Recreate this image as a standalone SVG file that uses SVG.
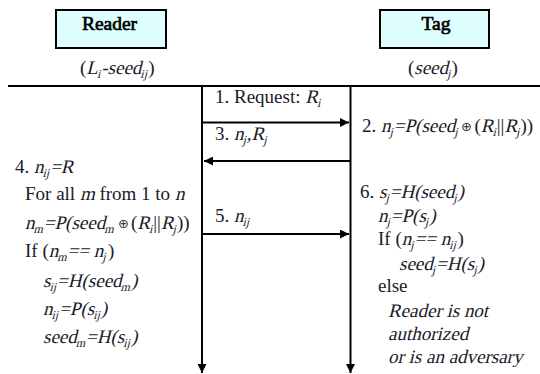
<svg xmlns="http://www.w3.org/2000/svg" width="540" height="374" viewBox="0 0 540 374">
<style>
  .box { fill: #dfffff; stroke: #000; stroke-width: 2; }
  .ln { stroke: #000; stroke-width: 2; fill: none; }
</style>
<defs>
  <marker id="ah" viewBox="0 0 10 10" refX="10" refY="5" markerWidth="12" markerHeight="9" markerUnits="userSpaceOnUse" orient="auto">
    <path d="M0,0 L10,5 L0,10 z" fill="#000"/>
  </marker>
</defs>
<rect width="540" height="374" fill="#fff"/>

<g font-family="Liberation Serif" font-size="19" fill="#1a1a2a">
<!-- slanted runs use skewX so the upright face can stand in for italics -->
<g id="reader">
  <rect class="box" x="56" y="10" width="110" height="38"/>
  <text x="109.5" y="30" text-anchor="middle" font-size="19.5" fill="#000" stroke="#000" stroke-width="0.7">Reader</text>
  <g transform="translate(80,74)">
    <text x="0">(</text>
    <text x="6.3" transform="skewX(-14)">L<tspan font-size="12" dy="4">i</tspan><tspan dy="-4">-seed</tspan><tspan font-size="12" dy="4">ij</tspan></text>
    <text x="68.3">)</text>
  </g>
</g>

<g id="tag">
  <rect class="box" x="380" y="10" width="109" height="38"/>
  <text x="436" y="30" text-anchor="middle" font-size="19.5" fill="#000" stroke="#000" stroke-width="0.7">Tag</text>
  <g transform="translate(408,74)">
    <text x="0">(</text>
    <text x="6.3" transform="skewX(-14)">seed<tspan font-size="12" dy="4">j</tspan></text>
    <text x="43.6">)</text>
  </g>
</g>

<g id="connectors">
  <line class="ln" x1="8" y1="86" x2="540" y2="86"/>
  <line class="ln" x1="202" y1="86" x2="202" y2="373" marker-end="url(#ah)"/>
  <line class="ln" x1="350.5" y1="86" x2="350.5" y2="373" marker-end="url(#ah)"/>
  <line class="ln" x1="202" y1="122.5" x2="349" y2="122.5" marker-end="url(#ah)"/>
  <line class="ln" x1="351" y1="161" x2="204" y2="161" marker-end="url(#ah)"/>
  <line class="ln" x1="202" y1="234" x2="349" y2="234" marker-end="url(#ah)"/>
</g>

<g id="messages">
  <g transform="translate(215,103)">
    <text x="0">1. Request:</text>
    <text x="90.3" transform="skewX(-14)">R<tspan font-size="12" dy="4">i</tspan></text>
  </g>
  <g transform="translate(215,140)">
    <text x="0">3.</text>
    <text x="19" transform="skewX(-14)">n<tspan font-size="12" dy="4">j</tspan><tspan dy="-4">,R</tspan><tspan font-size="12" dy="4">j</tspan></text>
  </g>
  <g transform="translate(215,222)">
    <text x="0">5.</text>
    <text x="19" transform="skewX(-14)">n<tspan font-size="12" dy="4">ij</tspan></text>
  </g>
</g>

<g id="reader-steps">
  <g transform="translate(15,173)">
    <text x="0">4.</text>
    <text x="19" transform="skewX(-14)">n<tspan font-size="12" dy="4">ij</tspan><tspan dy="-4">=R</tspan></text>
  </g>
  <g transform="translate(25,200)">
    <text x="0">For all</text>
    <text x="54.9" transform="skewX(-14)">m</text>
    <text x="74.4">from 1 to</text>
    <text x="149.9" transform="skewX(-14)">n</text>
  </g>
  <g transform="translate(25,229)">
    <text x="0" transform="skewX(-14)">n<tspan font-size="12" dy="4">m</tspan><tspan dy="-4">=P(seed</tspan><tspan font-size="12" dy="4">m</tspan></text>
    <text x="98.5" y="-1" text-anchor="middle" font-family="DejaVu Sans" font-size="13" fill="#333">⊕</text>
    <text x="106">(</text>
    <text x="112.3" transform="skewX(-14)">R<tspan font-size="12" dy="4">i</tspan></text>
    <text x="128.3">||</text>
    <text x="135.9" transform="skewX(-14)">R<tspan font-size="12" dy="4">j</tspan></text>
    <text x="151.9">))</text>
  </g>
  <g transform="translate(25,257)">
    <text x="0">If (</text>
    <text x="23.7" transform="skewX(-14)">n<tspan font-size="12" dy="4">m</tspan><tspan dy="-4">== n</tspan><tspan font-size="12" dy="4">j</tspan></text>
    <text x="83">)</text>
  </g>
  <g transform="translate(43,287)">
    <text x="0" transform="skewX(-14)">s<tspan font-size="12" dy="4">ij</tspan><tspan dy="-4">=H(seed</tspan><tspan font-size="12" dy="4">m</tspan><tspan dy="-4">)</tspan></text>
  </g>
  <g transform="translate(43,315)">
    <text x="0" transform="skewX(-14)">n<tspan font-size="12" dy="4">ij</tspan><tspan dy="-4">=P(s</tspan><tspan font-size="12" dy="4">ij</tspan><tspan dy="-4">)</tspan></text>
  </g>
  <g transform="translate(43,343)">
    <text x="0" transform="skewX(-14)">seed<tspan font-size="12" dy="4">m</tspan><tspan dy="-4">=H(s</tspan><tspan font-size="12" dy="4">ij</tspan><tspan dy="-4">)</tspan></text>
  </g>
</g>

<g id="tag-steps">
  <g transform="translate(362,132)">
    <text x="0">2.</text>
    <text x="19" transform="skewX(-14)">n<tspan font-size="12" dy="4">j</tspan><tspan dy="-4">=P(seed</tspan><tspan font-size="12" dy="4">j</tspan></text>
    <text x="104.5" y="-1" text-anchor="middle" font-family="DejaVu Sans" font-size="13" fill="#333">⊕</text>
    <text x="112.5">(</text>
    <text x="118.8" transform="skewX(-14)">R<tspan font-size="12" dy="4">i</tspan></text>
    <text x="134.8">||</text>
    <text x="142.4" transform="skewX(-14)">R<tspan font-size="12" dy="4">j</tspan></text>
    <text x="158.4">))</text>
  </g>
  <g transform="translate(360,198)">
    <text x="0">6.</text>
    <text x="19" transform="skewX(-14)">s<tspan font-size="12" dy="4">j</tspan><tspan dy="-4">=H(seed</tspan><tspan font-size="12" dy="4">j</tspan><tspan dy="-4">)</tspan></text>
  </g>
  <g transform="translate(378,222)">
    <text x="0" transform="skewX(-14)">n<tspan font-size="12" dy="4">j</tspan><tspan dy="-4">=P(s</tspan><tspan font-size="12" dy="4">j</tspan><tspan dy="-4">)</tspan></text>
  </g>
  <g transform="translate(378,245)">
    <text x="0">If (</text>
    <text x="23.7" transform="skewX(-14)">n<tspan font-size="12" dy="4">j</tspan><tspan dy="-4">== n</tspan><tspan font-size="12" dy="4">ij</tspan></text>
    <text x="79.5">)</text>
  </g>
  <g transform="translate(399,270)">
    <text x="0" transform="skewX(-14)">seed<tspan font-size="12" dy="4">j</tspan><tspan dy="-4">=H(s</tspan><tspan font-size="12" dy="4">j</tspan><tspan dy="-4">)</tspan></text>
  </g>
  <text x="378" y="292">else</text>
  <text x="388" y="317" transform="translate(79,0) skewX(-14)">Reader is not</text>
  <text x="388" y="340" transform="translate(84.8,0) skewX(-14)">authorized</text>
  <text x="388" y="363" transform="translate(90.5,0) skewX(-14)">or is an adversary</text>
</g>
</g>
</svg>
